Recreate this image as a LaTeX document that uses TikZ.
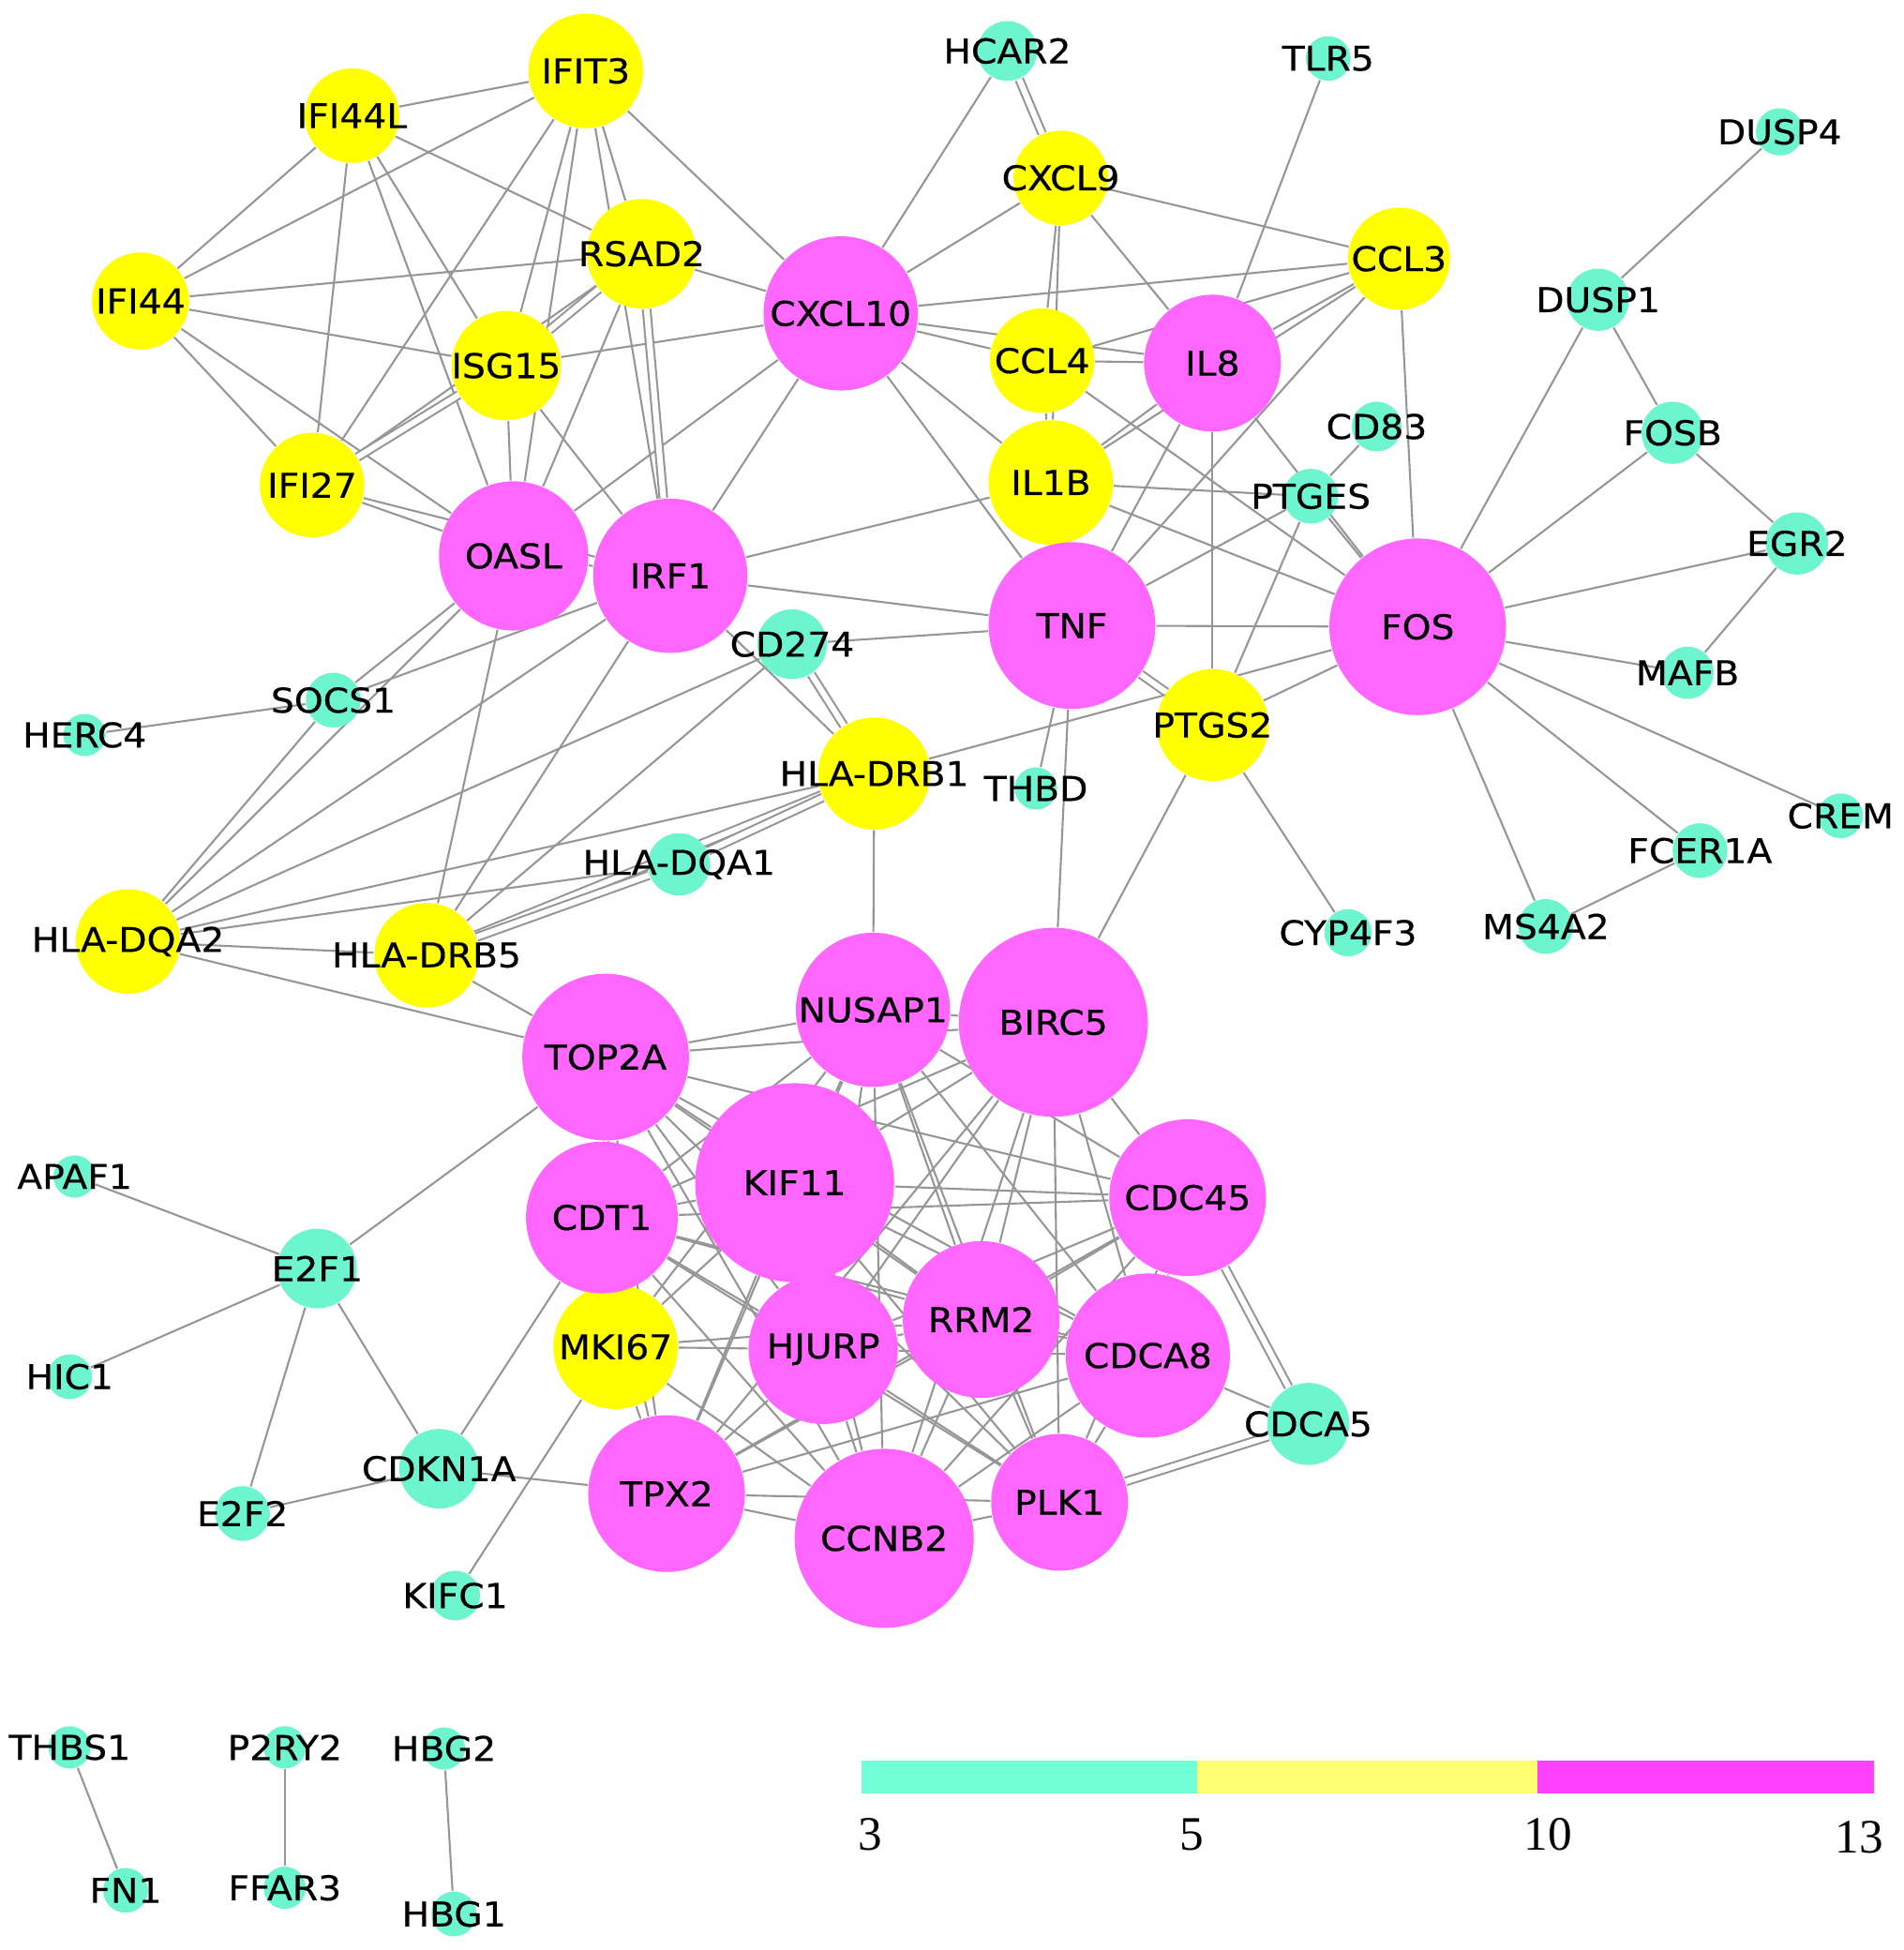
\documentclass[tikz,border=0pt]{standalone}
\usepackage{fontspec}
\setmainfont{DejaVu Sans}[FakeStretch=1.08, FakeBold=0.4]
\newfontfamily\legfont{Liberation Serif}
\usetikzlibrary{backgrounds}

\definecolor{lowcol}{RGB}{108,245,206}
\definecolor{midcol}{RGB}{255,255,0}
\definecolor{highcol}{RGB}{255,102,255}
\definecolor{edgecol}{RGB}{150,150,150}
\definecolor{lowleg}{RGB}{112,255,214}
\definecolor{midleg}{RGB}{255,255,112}
\definecolor{highleg}{RGB}{255,64,255}

\begin{document}
\begin{tikzpicture}[x=0.1mm, y=-0.1mm,
  gene/.style={circle, inner sep=0pt, draw=none},
  low/.style={gene, fill=lowcol},
  mid/.style={gene, fill=midcol},
  high/.style={gene, fill=highcol},
  edge/.style={draw=edgecol, line width=0.45pt},
  twin/.style={edge, double=white, double distance=1.3pt},
  legnum/.style={font=\legfont\fontsize{11}{12}\selectfont, inner sep=0pt},
  every label/.style={font=\fontsize{7.8}{8.5}\selectfont, inner sep=0pt}]

  \useasboundingbox (0,0) rectangle (1531,1568);

  % --- degree 5-10 (yellow) ---
  \node[mid, minimum size=9.2mm, label=center:IFIT3] (ifit3) at (471,57) {};
  \node[mid, minimum size=7.6mm, label=center:IFI44L] (ifi44l) at (283,93) {};
  \node[mid, minimum size=7.8mm, label=center:IFI44] (ifi44) at (113,242) {};
  \node[mid, minimum size=8.8mm, label=center:RSAD2] (rsad2) at (516,204) {};
  \node[mid, minimum size=8.8mm, label=center:ISG15] (isg15) at (407,294) {};
  \node[mid, minimum size=8.4mm, label=center:IFI27] (ifi27) at (251,390) {};
  \node[mid, minimum size=7.6mm, label=center:CXCL9] (cxcl9) at (853,143) {};
  \node[mid, minimum size=8.2mm, label=center:CCL3] (ccl3) at (1125,208) {};
  \node[mid, minimum size=8.4mm, label=center:CCL4] (ccl4) at (838,290) {};
  \node[mid, minimum size=10mm, label=center:IL1B] (il1b) at (845,388) {};
  \node[mid, minimum size=9mm, label=center:PTGS2] (ptgs2) at (975,583) {};
  \node[mid, minimum size=9mm, label=center:HLA-DRB1] (drb1) at (703,622) {};
  \node[mid, minimum size=8.4mm, label=center:HLA-DQA2] (dqa2) at (103,757) {};
  \node[mid, minimum size=8.4mm, label=center:HLA-DRB5] (drb5) at (343,768) {};
  \node[mid, minimum size=10mm, label=center:MKI67] (mki67) at (495,1083) {};

  % --- degree 10-13 (magenta) ---
  \node[high, minimum size=12.4mm, label=center:CXCL10] (cxcl10) at (676,252) {};
  \node[high, minimum size=11mm, label=center:IL8] (il8) at (975,292) {};
  \node[high, minimum size=12mm, label=center:OASL] (oasl) at (413,447) {};
  \node[high, minimum size=12.4mm, label=center:IRF1] (irf1) at (539,463) {};
  \node[high, minimum size=13.4mm, label=center:TNF] (tnf) at (862,503) {};
  \node[high, minimum size=14.2mm, label=center:FOS] (fos) at (1140,504) {};
  \node[high, minimum size=12.4mm, label=center:NUSAP1] (nusap1) at (702,812) {};
  \node[high, minimum size=15.2mm, label=center:BIRC5] (birc5) at (847,822) {};
  \node[high, minimum size=13.4mm, label=center:TOP2A] (top2a) at (487,850) {};
  \node[high, minimum size=16mm, label=center:KIF11] (kif11) at (639,951) {};
  \node[high, minimum size=12.2mm, label=center:CDT1] (cdt1) at (484,979) {};
  \node[high, minimum size=12.6mm, label=center:CDC45] (cdc45) at (955,963) {};
  \node[high, minimum size=12.6mm, label=center:RRM2] (rrm2) at (789,1061) {};
  \node[high, minimum size=12mm, label=center:HJURP] (hjurp) at (662,1085) {};
  \node[high, minimum size=13.2mm, label=center:CDCA8] (cdca8) at (923,1090) {};
  \node[high, minimum size=12.6mm, label=center:TPX2] (tpx2) at (536,1201) {};
  \node[high, minimum size=14.4mm, label=center:CCNB2] (ccnb2) at (711,1237) {};
  \node[high, minimum size=11mm, label=center:PLK1] (plk1) at (852,1208) {};

  % --- degree 3-5 (cyan) ---
  \node[low, minimum size=4.8mm, label=center:HCAR2] (hcar2) at (810,41) {};
  \node[low, minimum size=3.6mm, label=center:TLR5] (tlr5) at (1068,47) {};
  \node[low, minimum size=3.8mm, label=center:DUSP4] (dusp4) at (1431,106) {};
  \node[low, minimum size=5mm, label=center:DUSP1] (dusp1) at (1285,241) {};
  \node[low, minimum size=4mm, label=center:CD83] (cd83) at (1107,343) {};
  \node[low, minimum size=5mm, label=center:FOSB] (fosb) at (1345,348) {};
  \node[low, minimum size=4.4mm, label=center:PTGES] (ptges) at (1054,399) {};
  \node[low, minimum size=5mm, label=center:EGR2] (egr2) at (1445,437) {};
  \node[low, minimum size=5.6mm, label=center:CD274] (cd274) at (637,518) {};
  \node[low, minimum size=4.2mm, label=center:MAFB] (mafb) at (1357,541) {};
  \node[low, minimum size=4.4mm, label=center:SOCS1] (socs1) at (268,563) {};
  \node[low, minimum size=3.4mm, label=center:HERC4] (herc4) at (68,591) {};
  \node[low, minimum size=3.4mm, label=center:THBD] (thbd) at (833,634) {};
  \node[low, minimum size=3.6mm, label=center:CREM] (crem) at (1480,656) {};
  \node[low, minimum size=4.4mm, label=center:FCER1A] (fcer1a) at (1367,684) {};
  \node[low, minimum size=5mm, label=center:HLA-DQA1] (dqa1) at (546,695) {};
  \node[low, minimum size=3.8mm, label=center:CYP4F3] (cyp4f3) at (1084,750) {};
  \node[low, minimum size=4.4mm, label=center:MS4A2] (ms4a2) at (1243,745) {};
  \node[low, minimum size=3.4mm, label=center:APAF1] (apaf1) at (60,946) {};
  \node[low, minimum size=6.4mm, label=center:E2F1] (e2f1) at (255,1020) {};
  \node[low, minimum size=3.6mm, label=center:HIC1] (hic1) at (56,1107) {};
  \node[low, minimum size=6.6mm, label=center:CDCA5] (cdca5) at (1052,1145) {};
  \node[low, minimum size=6.4mm, label=center:CDKN1A] (cdkn1a) at (353,1181) {};
  \node[low, minimum size=4.4mm, label=center:E2F2] (e2f2) at (195,1217) {};
  \node[low, minimum size=4mm, label=center:KIFC1] (kifc1) at (366,1283) {};
  \node[low, minimum size=3.4mm, label=center:THBS1] (thbs1) at (56,1405) {};
  \node[low, minimum size=3.6mm, label=center:FN1] (fn1) at (101,1520) {};
  \node[low, minimum size=3.4mm, label=center:P2RY2] (p2ry2) at (229,1405) {};
  \node[low, minimum size=3.4mm, label=center:FFAR3] (ffar3) at (229,1518) {};
  \node[low, minimum size=3.4mm, label=center:HBG2] (hbg2) at (357,1406) {};
  \node[low, minimum size=3.6mm, label=center:HBG1] (hbg1) at (365,1539) {};

  \begin{scope}[on background layer]
    % interferon group
    \foreach \a/\b in {ifit3/ifi44l, ifit3/ifi44, ifit3/ifi27, ifit3/isg15, ifit3/oasl,
      ifit3/rsad2, ifit3/irf1, ifit3/cxcl10, ifi44l/ifi44, ifi44l/ifi27, ifi44l/isg15,
      ifi44l/oasl, ifi44l/rsad2, ifi44/rsad2, ifi44/isg15, ifi44/ifi27, ifi44/oasl,
      ifi27/rsad2, ifi27/oasl, ifi27/irf1, isg15/oasl, isg15/cxcl10, isg15/irf1,
      rsad2/oasl, rsad2/cxcl10, oasl/irf1, oasl/cxcl10, irf1/cxcl10}
      \draw[edge] (\a) -- (\b);
    % chemokines, TNF and FOS
    \foreach \a/\b in {cxcl10/hcar2, cxcl10/cxcl9, cxcl10/ccl3, cxcl10/ccl4, cxcl10/il8,
      cxcl10/il1b, cxcl10/tnf, cxcl9/ccl3, cxcl9/ccl4, cxcl9/il1b, cxcl9/il8,
      ccl4/il8, ccl4/ccl3, ccl4/il1b, ccl4/fos, il8/ccl3, il8/il1b, il8/tnf, il8/ptgs2,
      il8/fos, tlr5/il8, il1b/ccl3, il1b/irf1, il1b/tnf, il1b/ptges, il1b/fos,
      ccl3/tnf, ccl3/fos, tnf/irf1, tnf/cd274, tnf/ptges, tnf/fos, tnf/thbd, tnf/birc5,
      cd83/ptges, ptges/ptgs2, ptges/fos, ptgs2/fos, ptgs2/birc5, ptgs2/cyp4f3,
      fos/dusp1, fos/fosb, fos/egr2, fos/mafb, fos/crem, fos/fcer1a, fos/ms4a2,
      dusp1/dusp4, dusp1/fosb, fosb/egr2, egr2/mafb, fcer1a/ms4a2}
      \draw[edge] (\a) -- (\b);
    % HLA group
    \foreach \a/\b in {socs1/herc4, socs1/oasl, socs1/irf1, socs1/dqa2, dqa2/oasl,
      dqa2/irf1, dqa2/cd274, dqa2/drb1, dqa2/dqa1, dqa2/drb5, dqa2/top2a, drb5/oasl,
      drb5/irf1, drb5/cd274, drb5/top2a, drb1/irf1, drb1/nusap1, drb1/fos}
      \draw[edge] (\a) -- (\b);
    % repeated links
    \foreach \a/\b in {hcar2/cxcl9, ifi27/isg15, isg15/rsad2, rsad2/irf1, cd274/drb1,
      drb5/drb1, drb5/dqa1, dqa1/drb1, ptgs2/tnf, cdca5/cdc45, cdca5/plk1}
      \draw[twin] (\a) -- (\b);
    % cell cycle group
    \foreach \a [count=\i] in {top2a,nusap1,birc5,kif11,cdt1,cdc45,hjurp,rrm2,cdca8,tpx2,ccnb2,plk1}
      \foreach \b [count=\j] in {top2a,nusap1,birc5,kif11,cdt1,cdc45,hjurp,rrm2,cdca8,tpx2,ccnb2,plk1}
        {\ifnum\j>\i \draw[edge] (\a) -- (\b); \fi}
    \foreach \b in {top2a, cdt1, kif11, hjurp, tpx2, ccnb2, rrm2, nusap1, kifc1}
      \draw[edge] (mki67) -- (\b);
    \foreach \a/\b in {cdca5/cdca8, e2f1/top2a, e2f1/apaf1, e2f1/hic1, e2f1/e2f2,
      e2f1/cdkn1a, cdkn1a/e2f2, cdkn1a/cdt1, cdkn1a/tpx2, thbs1/fn1, p2ry2/ffar3, hbg2/hbg1}
      \draw[edge] (\a) -- (\b);
  \end{scope}

  % --- legend ---
  \fill[lowleg] (693,1416) rectangle (963,1442);
  \fill[midleg] (963,1416) rectangle (1236,1442);
  \fill[highleg] (1236,1416) rectangle (1507,1442);
  \node[legnum] (t3) at (700,1475) {3};
  \node[legnum] (t5) at (958,1475) {5};
  \node[legnum] (t10) at (1245,1475) {10};
  \node[legnum] (t13) at (1495,1477) {13};

\end{tikzpicture}
\end{document}
